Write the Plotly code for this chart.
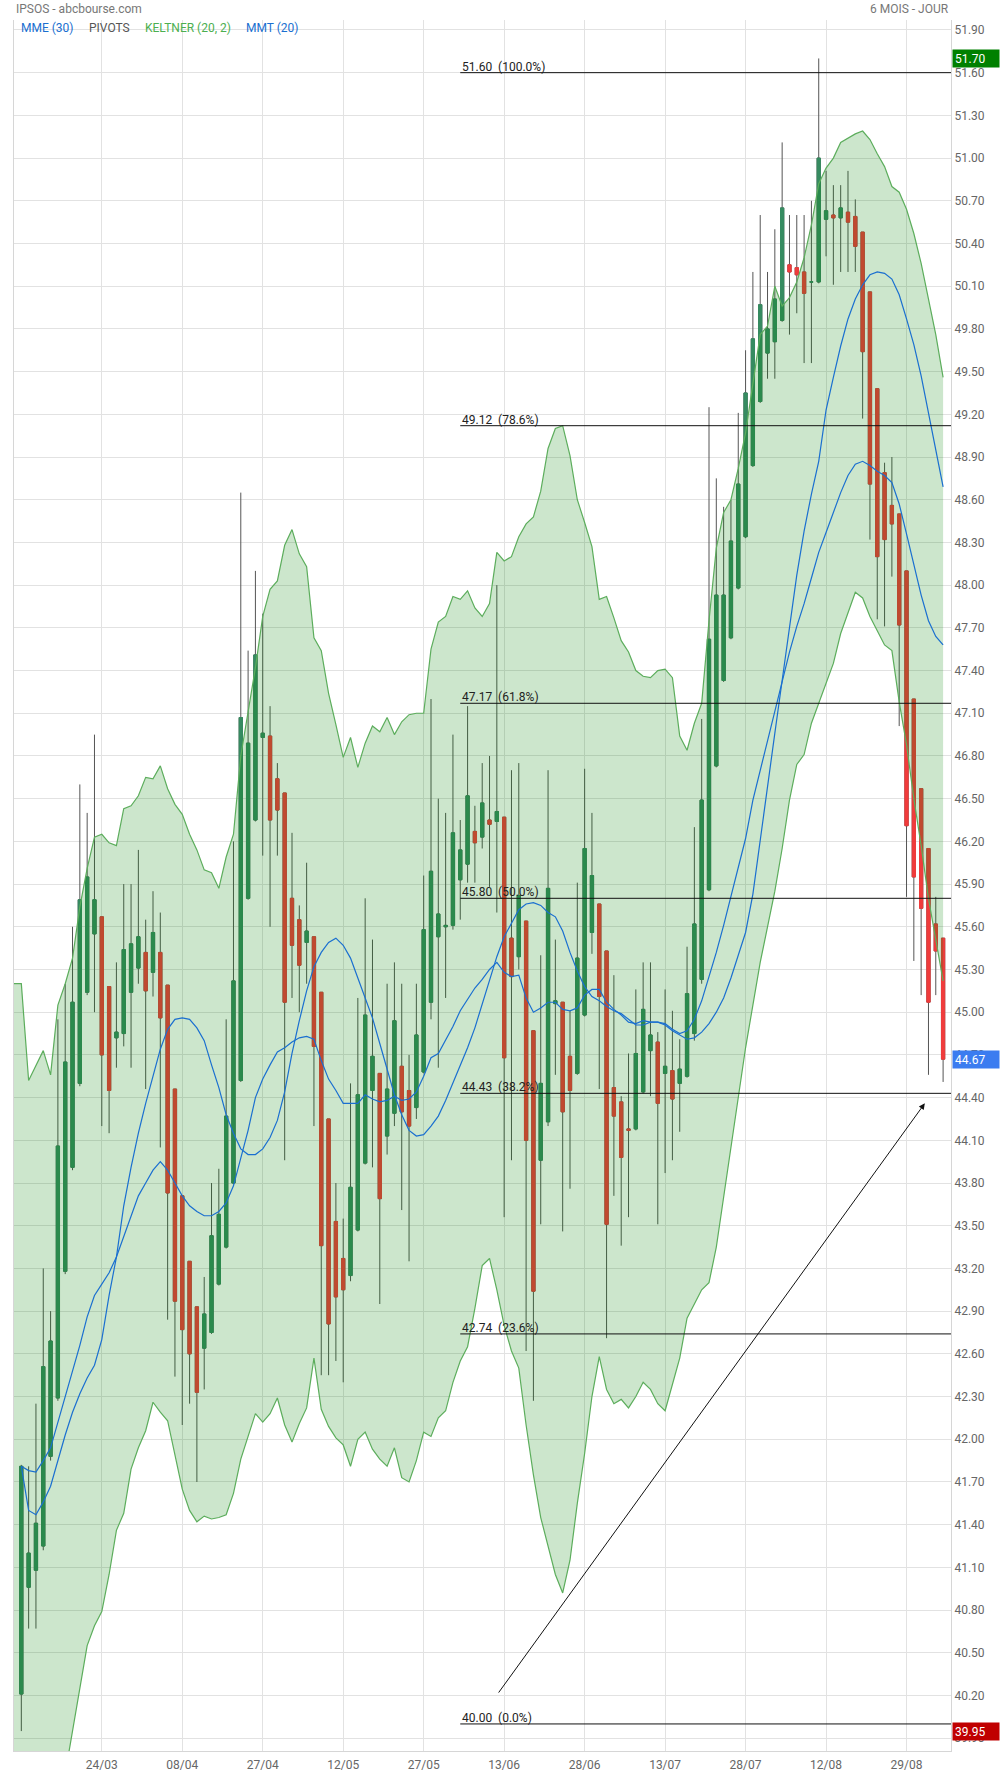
import pandas as pd
import plotly.graph_objects as go

# ---------------- data ----------------
holidays = ["2022-04-15", "2022-04-18"]
dates = [d for d in pd.bdate_range("2022-03-09", "2022-09-05")
         if d.strftime("%Y-%m-%d") not in holidays]
tick_labels = ["24/03", "08/04", "27/04", "12/05", "27/05", "13/06",
               "28/06", "13/07", "28/07", "12/08", "29/08"]

open_ = [40.21, 40.96, 41.08, 41.25, 41.88, 42.29, 43.18, 43.91, 44.50, 45.14,
         45.55, 45.67, 45.18, 44.82, 44.85, 45.14, 45.31, 45.42, 45.28, 45.42,
         45.19, 44.46, 43.71, 43.25, 42.93, 42.64, 42.75, 43.09, 43.35, 43.80,
         44.52, 45.80, 46.35, 46.93, 46.94, 46.64, 46.54, 45.80, 45.65, 45.49,
         45.53, 45.14, 44.25, 43.53, 43.27, 43.15, 43.47, 43.94, 44.45, 44.57,
         44.13, 44.29, 44.62, 44.45, 44.33, 44.58, 45.07, 45.53, 45.60, 45.61,
         45.93, 46.04, 46.27, 46.23, 46.35, 46.34, 46.37, 45.52, 45.39, 45.64,
         44.87, 43.96, 44.23, 45.06, 45.07, 44.69, 44.57, 44.98, 45.56, 45.76,
         45.43, 44.47, 44.37, 44.18, 44.18, 44.44, 44.73, 44.79, 44.57, 44.59,
         44.50, 44.55, 44.85, 45.23, 45.86, 46.73, 47.33, 47.63, 47.98, 48.34,
         48.84, 49.29, 49.63, 49.71, 49.86, 50.25, 50.23, 50.20, 50.13, 50.13,
         50.57, 50.60, 50.58, 50.62, 50.59, 50.48, 50.06, 49.38, 48.79, 48.56,
         48.50, 48.10, 47.20, 46.57, 46.15, 45.62, 45.52]
high = [41.82, 41.81, 42.25, 43.20, 42.90, 44.95, 45.20, 45.60, 46.60, 46.40,
        46.95, 45.67, 45.18, 45.35, 45.90, 45.90, 46.14, 45.65, 45.85, 45.70,
        45.19, 44.46, 43.71, 43.25, 42.93, 43.14, 43.80, 43.90, 44.95, 46.20,
        48.65, 47.54, 48.10, 47.80, 47.15, 46.75, 46.54, 46.26, 45.75, 46.05,
        45.53, 45.14, 44.25, 43.80, 43.55, 44.50, 45.10, 45.80, 45.51, 44.57,
        45.20, 45.35, 45.20, 44.70, 45.20, 45.96, 47.20, 46.50, 46.40, 46.95,
        46.35, 47.15, 46.45, 46.75, 46.80, 48.00, 46.37, 46.70, 46.75, 45.64,
        44.87, 45.40, 46.70, 45.51, 45.07, 45.01, 45.91, 46.71, 46.40, 45.76,
        45.43, 45.26, 44.41, 44.71, 45.16, 45.35, 45.35, 44.86, 45.16, 45.01,
        44.81, 45.46, 46.30, 47.06, 49.25, 48.75, 48.55, 48.60, 49.21, 49.65,
        50.20, 50.60, 50.20, 50.50, 51.11, 50.60, 50.60, 50.60, 50.70, 51.70,
        50.91, 50.81, 50.81, 50.91, 50.71, 50.48, 50.06, 49.38, 48.86, 48.90,
        48.50, 48.10, 47.20, 46.57, 46.15, 45.81, 45.52]
low = [39.95, 40.67, 40.67, 41.22, 41.85, 42.27, 43.16, 43.89, 44.48, 45.12,
       45.00, 44.20, 44.15, 44.61, 44.76, 44.61, 45.20, 44.46, 45.11, 44.05,
       42.84, 42.44, 42.10, 42.25, 41.70, 42.35, 42.74, 43.08, 43.34, 43.79,
       44.51, 45.79, 46.34, 46.10, 45.60, 46.10, 43.96, 45.10, 45.00, 45.20,
       44.20, 42.45, 42.45, 42.55, 42.40, 43.11, 43.46, 43.93, 43.91, 42.95,
       44.00, 44.20, 43.61, 43.25, 44.25, 44.57, 44.95, 44.61, 45.10, 45.58,
       45.65, 45.91, 45.91, 46.15, 45.88, 45.70, 43.56, 43.96, 45.30, 42.62,
       42.27, 43.51, 44.20, 44.56, 43.46, 43.76, 44.56, 44.97, 45.41, 44.46,
       42.71, 43.71, 43.36, 43.56, 44.17, 44.43, 44.41, 43.51, 43.87, 43.96,
       44.16, 44.54, 44.80, 45.20, 45.85, 46.72, 47.32, 47.62, 47.97, 48.33,
       48.83, 49.28, 49.45, 49.45, 49.85, 49.76, 49.91, 49.56, 49.56, 50.12,
       50.31, 50.11, 50.20, 50.20, 50.20, 49.17, 48.32, 47.76, 47.71, 48.06,
       47.01, 45.81, 45.36, 45.12, 44.56, 45.12, 44.51]
close = [41.81, 41.20, 41.41, 42.51, 42.69, 44.06, 44.65, 45.07, 45.79, 45.95,
         45.79, 44.70, 44.45, 44.86, 45.44, 45.48, 45.53, 45.15, 45.56, 44.96,
         43.73, 42.97, 42.77, 42.60, 42.33, 42.88, 43.43, 43.58, 44.27, 45.22,
         47.07, 46.89, 47.51, 46.96, 46.35, 46.42, 45.07, 45.47, 45.33, 45.57,
         44.76, 43.36, 42.81, 43.00, 43.05, 43.77, 44.42, 44.98, 44.69, 43.69,
         44.46, 44.94, 44.30, 44.20, 44.84, 45.58, 45.99, 45.69, 45.61, 46.26,
         46.14, 46.52, 46.19, 46.47, 46.32, 46.41, 44.68, 45.25, 45.82, 44.10,
         43.04, 44.50, 45.87, 45.08, 44.30, 44.45, 45.38, 46.15, 45.96, 45.11,
         43.51, 44.27, 43.98, 44.17, 44.71, 45.02, 44.84, 44.36, 44.62, 44.39,
         44.60, 45.13, 45.62, 46.49, 47.62, 47.93, 47.93, 48.31, 48.71, 49.35,
         49.73, 49.97, 49.80, 50.01, 50.65, 50.20, 50.18, 50.05, 50.13, 51.00,
         50.63, 50.58, 50.65, 50.55, 50.38, 49.64, 48.71, 48.20, 48.32, 48.43,
         47.72, 46.31, 45.95, 45.73, 45.07, 45.43, 44.67]

# Keltner (20, 2) channel: first value is the session before the first candle
keltner_upper = [45.20, 45.20, 44.52, 44.62, 44.73, 44.56, 45.05, 45.20, 45.38, 45.74, 46.01,
                 46.23, 46.25, 46.19, 46.17, 46.43, 46.45, 46.52, 46.65, 46.64, 46.73,
                 46.57, 46.46, 46.39, 46.25, 46.14, 46.00, 45.98, 45.87, 46.09, 46.25,
                 46.80, 47.12, 47.42, 47.78, 47.97, 48.03, 48.28, 48.39, 48.22, 48.13,
                 47.63, 47.54, 47.24, 47.02, 46.79, 46.93, 46.72, 46.89, 47.01, 46.97,
                 47.07, 46.95, 47.04, 47.09, 47.10, 47.10, 47.55, 47.74, 47.78, 47.92,
                 47.90, 47.96, 47.84, 47.78, 47.87, 48.23, 48.17, 48.20, 48.34, 48.43,
                 48.48, 48.66, 48.96, 49.10, 49.12, 48.91, 48.60, 48.44, 48.27, 47.90,
                 47.92, 47.77, 47.61, 47.53, 47.40, 47.36, 47.35, 47.40, 47.41, 47.35,
                 46.94, 46.84, 47.03, 47.17, 47.75, 48.26, 48.51, 48.60, 48.82, 49.07,
                 49.41, 49.76, 49.82, 50.10, 49.96, 50.02, 50.13, 50.30, 50.53, 50.82,
                 50.93, 51.00, 51.11, 51.14, 51.17, 51.19, 51.13, 51.03, 50.94, 50.80,
                 50.76, 50.64, 50.47, 50.26, 50.02, 49.76, 49.46]
keltner_lower = [38.40, 38.45, 38.55, 38.70, 38.90, 39.10, 39.35, 39.65, 39.94, 40.24, 40.55,
                 40.69, 40.79, 41.05, 41.36, 41.48, 41.79, 41.94, 42.06, 42.26, 42.19,
                 42.13, 41.88, 41.65, 41.50, 41.42, 41.46, 41.44, 41.45, 41.47, 41.62,
                 41.86, 42.02, 42.18, 42.12, 42.18, 42.29, 42.10, 41.98, 42.11, 42.22,
                 42.57, 42.21, 42.09, 42.01, 41.96, 41.81, 42.00, 42.05, 41.93, 41.86,
                 41.81, 41.94, 41.73, 41.70, 41.85, 42.05, 42.02, 42.15, 42.20, 42.40,
                 42.55, 42.65, 42.92, 43.22, 43.27, 43.05, 42.80, 42.62, 42.50, 42.10,
                 41.75, 41.45, 41.25, 41.05, 40.92, 41.15, 41.55, 41.90, 42.30, 42.58,
                 42.35, 42.25, 42.28, 42.22, 42.30, 42.40, 42.35, 42.25, 42.20, 42.38,
                 42.57, 42.85, 42.95, 43.05, 43.10, 43.35, 43.70, 44.05, 44.40, 44.75,
                 45.05, 45.35, 45.60, 45.85, 46.15, 46.49, 46.74, 46.81, 47.03, 47.17,
                 47.32, 47.45, 47.66, 47.80, 47.95, 47.91, 47.78, 47.68, 47.58, 47.54,
                 47.18, 46.88, 46.50, 46.17, 45.80, 45.51, 45.22]
mmt20 = [41.81, 41.50, 41.47, 41.56, 41.67, 41.85, 42.03, 42.19, 42.32, 42.43,
         42.52, 42.70, 43.01, 43.28, 43.64, 43.91, 44.15, 44.36, 44.56, 44.74,
         44.88, 44.95, 44.96, 44.95, 44.89, 44.80, 44.63, 44.47, 44.28, 44.15,
         44.04, 44.00, 44.00, 44.04, 44.12, 44.24, 44.44, 44.71, 44.94, 45.15,
         45.32, 45.42, 45.49, 45.52, 45.47, 45.38, 45.24, 45.10, 44.96, 44.78,
         44.60, 44.42, 44.28, 44.17, 44.13, 44.14, 44.20, 44.27, 44.38, 44.50,
         44.63, 44.75, 44.89, 45.06, 45.23, 45.39, 45.53, 45.63, 45.72, 45.76,
         45.77, 45.75, 45.70, 45.67, 45.57, 45.42, 45.29, 45.18, 45.11, 45.08,
         45.04, 45.01, 44.99, 44.95, 44.91, 44.91, 44.93, 44.93, 44.91, 44.87,
         44.84, 44.81, 44.82, 44.86, 44.92, 45.00, 45.10, 45.24, 45.40, 45.56,
         45.83, 46.22, 46.58, 46.96, 47.33, 47.72, 48.07, 48.38, 48.64, 48.87,
         49.23, 49.46, 49.68, 49.87, 50.01, 50.11, 50.18, 50.20, 50.19, 50.15,
         50.04, 49.87, 49.69, 49.47, 49.21, 48.97, 48.69]
mme30 = [41.81, 41.78, 41.77, 41.85, 41.94, 42.12, 42.30, 42.48, 42.66, 42.86,
         43.01, 43.09, 43.17, 43.28, 43.42, 43.57, 43.71, 43.80, 43.89, 43.95,
         43.89, 43.80, 43.71, 43.64, 43.60, 43.57, 43.57, 43.60, 43.66, 43.78,
         43.97, 44.17, 44.40, 44.53, 44.63, 44.72, 44.75, 44.79, 44.82, 44.83,
         44.81, 44.66, 44.53, 44.45, 44.36, 44.36, 44.36, 44.42, 44.39, 44.37,
         44.38, 44.41, 44.38, 44.39, 44.44, 44.55, 44.68, 44.71, 44.80, 44.90,
         45.01, 45.09, 45.17, 45.23, 45.30, 45.35, 45.28, 45.25, 45.26, 45.10,
         45.00, 45.03, 45.07, 45.07, 45.02, 45.01, 45.03, 45.12, 45.16, 45.16,
         45.07, 45.02, 44.98, 44.93, 44.92, 44.94, 44.93, 44.93, 44.92, 44.88,
         44.85, 44.87, 44.95, 45.08, 45.25, 45.42, 45.61, 45.82, 46.03, 46.22,
         46.49, 46.70, 46.92, 47.12, 47.33, 47.53, 47.71, 47.87, 48.05, 48.23,
         48.37, 48.51, 48.65, 48.77, 48.85, 48.87, 48.84, 48.80, 48.77, 48.72,
         48.57, 48.36, 48.14, 47.93, 47.75, 47.64, 47.58]

fib_levels = [51.60, 49.12, 47.17, 45.80, 44.43, 42.74, 40.00]
fib_pcts = ["100.0%", "78.6%", "61.8%", "50.0%", "38.2%", "23.6%", "0.0%"]
fib_start = "2022-06-03"
arrow_from = (65.1, 40.21)
arrow_to = (123.5, 44.36)

# ---------------- styles ----------------
GREEN = "#368c61"
RED = "#f03c3c"
WICK = "#555555"
BAND_LINE = "#5cad5c"
BAND_FILL = "rgba(0,128,0,0.2)"
BLUE = "#1a6fd0"
GRID = "#e2e2e2"
FONT = "Roboto"

n = len(dates)
x = list(range(n))
band_x = list(range(-1, n))
labels = [d.strftime("%d/%m") for d in dates]
tickvals = [i for i, l in enumerate(labels) if l in tick_labels]
ticktext = [labels[i] for i in tickvals]
fib_x0 = [d.strftime("%Y-%m-%d") for d in dates].index(fib_start)
body_hi = [max(o, c) for o, c in zip(open_, close)]
body_lo = [min(o, c) for o, c in zip(open_, close)]

fig = go.Figure()
# wicks (grey)
fig.add_trace(go.Candlestick(
    x=x, open=open_, high=high, low=low, close=close,
    increasing=dict(line=dict(color=WICK, width=1), fillcolor=WICK),
    decreasing=dict(line=dict(color=WICK, width=1), fillcolor=WICK),
    whiskerwidth=0, hoverinfo="skip", showlegend=False))
# bodies (coloured)
fig.add_trace(go.Candlestick(
    x=x, open=open_, high=body_hi, low=body_lo, close=close,
    increasing=dict(line=dict(color=GREEN, width=1), fillcolor=GREEN),
    decreasing=dict(line=dict(color=RED, width=1), fillcolor=RED),
    whiskerwidth=0, hoverinfo="skip", showlegend=False))
# Keltner channel
fig.add_trace(go.Scatter(x=band_x, y=keltner_upper, mode="lines",
                         line=dict(color=BAND_LINE, width=1.2),
                         hoverinfo="skip", showlegend=False))
fig.add_trace(go.Scatter(x=band_x, y=keltner_lower, mode="lines",
                         line=dict(color=BAND_LINE, width=1.2),
                         fill="tonexty", fillcolor=BAND_FILL,
                         hoverinfo="skip", showlegend=False))
# moving averages
fig.add_trace(go.Scatter(x=x, y=mme30, mode="lines",
                         line=dict(color=BLUE, width=1.2),
                         hoverinfo="skip", showlegend=False))
fig.add_trace(go.Scatter(x=x, y=mmt20, mode="lines",
                         line=dict(color=BLUE, width=1.2),
                         hoverinfo="skip", showlegend=False))

X_MAX = 127.08
shapes = []
annotations = []
for lvl, pct in zip(fib_levels, fib_pcts):
    shapes.append(dict(type="line", xref="x", yref="y", x0=fib_x0, x1=X_MAX,
                       y0=lvl, y1=lvl, line=dict(color="#111111", width=1),
                       layer="above"))
    annotations.append(dict(x=fib_x0, y=lvl, xref="x", yref="y",
                            text=f"{lvl:.2f}\u00a0\u00a0({pct})",
                            showarrow=False, xanchor="left", yanchor="bottom",
                            yshift=-3, font=dict(family=FONT, size=12, color="#222222")))

annotations.append(dict(x=arrow_to[0], y=arrow_to[1], ax=arrow_from[0], ay=arrow_from[1],
                        xref="x", yref="y", axref="x", ayref="y", text="",
                        showarrow=True, arrowhead=2, arrowsize=1.2, arrowwidth=1,
                        arrowcolor="#111111"))

# header texts
annotations.append(dict(x=0, y=1, xref="paper", yref="paper", text="IPSOS - abcbourse.com",
                        showarrow=False, xanchor="left", yanchor="middle", yshift=11.5,
                        font=dict(family=FONT, size=12, color="#777777")))
annotations.append(dict(x=1, y=1, xref="paper", yref="paper", text="6 MOIS - JOUR",
                        showarrow=False, xanchor="right", yanchor="middle", yshift=11.5,
                        font=dict(family=FONT, size=12, color="#777777")))
legend_items = [("MME (30)", BLUE, 5), ("PIVOTS", "#555555", 73),
                ("KELTNER (20, 2)", "#4caf50", 129), ("MMT (20)", BLUE, 230)]
for txt, col, dx in legend_items:
    annotations.append(dict(x=0, y=1, xref="paper", yref="paper", text=txt,
                            showarrow=False, xanchor="left", yanchor="middle",
                            xshift=dx, yshift=-8,
                            font=dict(family=FONT, size=12, color=col)))

# value boxes on the price axis
for val, col in [(max(high), "#008000"), (close[-1], "#3b7cf0"), (min(low), "#c00000")]:
    annotations.append(dict(x=1, y=val, xref="paper", yref="y", text=f"{val:.2f}",
                            showarrow=False, xanchor="left", yanchor="middle", xshift=1,
                            bgcolor=col, width=42, height=13, borderpad=2, align="left",
                            font=dict(family=FONT, size=12, color="white")))

fig.update_layout(
    width=1000, height=1774,
    margin=dict(l=14, r=48.5, t=20, b=23, autoexpand=False),
    paper_bgcolor="white", plot_bgcolor="white",
    boxgap=0.36, showlegend=False,
    shapes=shapes, annotations=annotations,
    font=dict(family=FONT, size=12, color="#666666"),
    xaxis=dict(range=[-1.0, X_MAX], tickvals=tickvals, ticktext=ticktext,
               showgrid=True, gridcolor=GRID, gridwidth=1, zeroline=False,
               showline=True, linecolor="#d6d6d6", linewidth=1, mirror=False,
               ticks="", ticklabelstandoff=3, automargin=False,
               rangeslider=dict(visible=False),
               tickfont=dict(family=FONT, size=12, color="#666666")),
    yaxis=dict(range=[39.81, 51.97], side="right", tick0=40.2, dtick=0.3,
               tickformat=".2f", showgrid=True, gridcolor=GRID, gridwidth=1,
               zeroline=False, showline=True, linecolor="#d6d6d6", linewidth=1,
               mirror=True, ticks="", automargin=False,
               tickfont=dict(family=FONT, size=12, color="#666666")),
)

fig.write_html("out.html", config={"displayModeBar": False},
               post_script="document.body.style.margin='0';document.body.style.overflow='hidden';")
